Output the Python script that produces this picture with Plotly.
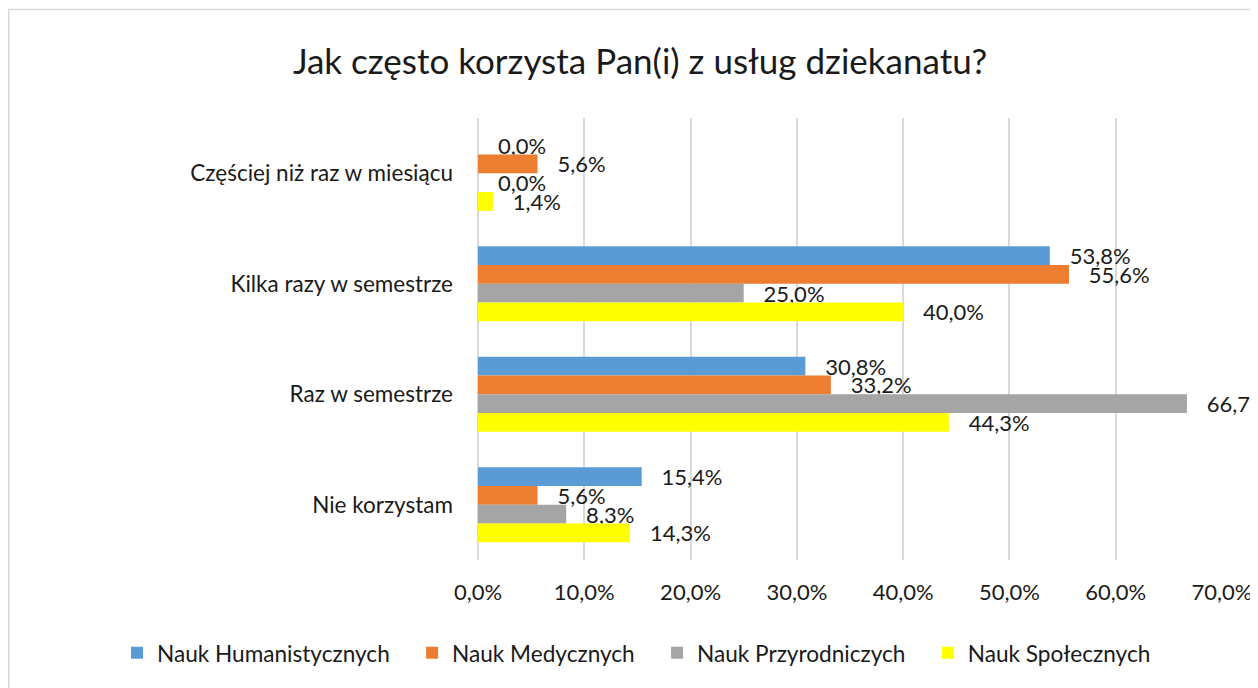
import plotly.graph_objects as go

categories = ["Częściej niż raz w miesiącu", "Kilka razy w semestrze", "Raz w semestrze", "Nie korzystam"]
series_names = ["Nauk Humanistycznych", "Nauk Medycznych", "Nauk Przyrodniczych", "Nauk Społecznych"]
humanistyczne = [0.0, 53.8, 30.8, 15.4]
medyczne = [5.6, 55.6, 33.2, 5.6]
przyrodnicze = [0.0, 25.0, 66.7, 8.3]
spoleczne = [1.4, 40.0, 44.3, 14.3]
colors = ["#5B9BD5", "#ED7D31", "#A5A5A5", "#FFFF00"]
x_ticks = [0, 10, 20, 30, 40, 50, 60, 70]
title_text = "Jak często korzysta Pan(i) z usług dziekanatu?"


def pct(v):
    return f"{v:.1f}".replace(".", ",") + "%"


FONT = "Lato"
TXT = "#1a1a1a"
NB = "\u00a0"

# figure is placed at (8, 8) in the page (default body margin)
W, H = 1250, 680
PL, PR, PT, PB = 470, 1214, 110, 552  # plot area in figure pixels
PW, PH = PR - PL, PB - PT

fig = go.Figure()
for name, vals, col in zip(series_names, [humanistyczne, medyczne, przyrodnicze, spoleczne], colors):
    labels = [NB * 3 + pct(v) for v in vals]
    fig.add_trace(go.Bar(
        name=name + NB * 3, y=categories, x=vals, orientation="h",
        marker=dict(color=col, line=dict(width=0)),
        text=labels, textposition="outside", constraintext="none",
        cliponaxis=False,
        textfont=dict(family=FONT, size=22, color=TXT),
    ))

fig.update_layout(
    width=W, height=H,
    paper_bgcolor="white", plot_bgcolor="white",
    barmode="group", bargap=0.32, bargroupgap=0,
    margin=dict(l=PL, r=W - PR, t=PT, b=H - PB, autoexpand=False),
    font=dict(family=FONT, color=TXT),
    title=dict(text=title_text, x=632 / W, xanchor="center", y=1 - 54 / H, yanchor="middle",
               yref="container", xref="container",
               font=dict(family=FONT, size=35, color=TXT)),
    showlegend=True,
    legend=dict(orientation="h", xref="paper", yref="paper",
                x=(109 - PL) / PW, xanchor="left", y=(PB - 645) / PH, yanchor="middle",
                font=dict(family=FONT, size=22.6, color=TXT), traceorder="normal"),
    xaxis=dict(range=[0, 70], tickvals=x_ticks, ticktext=[pct(t) for t in x_ticks],
               showgrid=True, gridcolor="#D9D9D9", gridwidth=1.5,
               zeroline=True, zerolinecolor="#D9D9D9", zerolinewidth=1.5,
               showline=False, ticks="", ticklabelstandoff=17,
               tickfont=dict(family=FONT, size=22, color=TXT), fixedrange=True),
    yaxis=dict(categoryorder="array", categoryarray=categories, autorange="reversed",
               showgrid=False, zeroline=False, showline=False, ticks="", ticklabelstandoff=24,
               tickfont=dict(family=FONT, size=22.5, color=TXT)),
    shapes=[dict(type="rect", xref="paper", yref="paper",
                 x0=(0.75 - PL) / PW, x1=(1275 - PL) / PW, y0=(PB - 720) / PH, y1=(PB - 1.5) / PH,
                 line=dict(color="#D9D9D9", width=1.5), fillcolor="rgba(0,0,0,0)", layer="below")],
)

fig.write_html("out.html")
